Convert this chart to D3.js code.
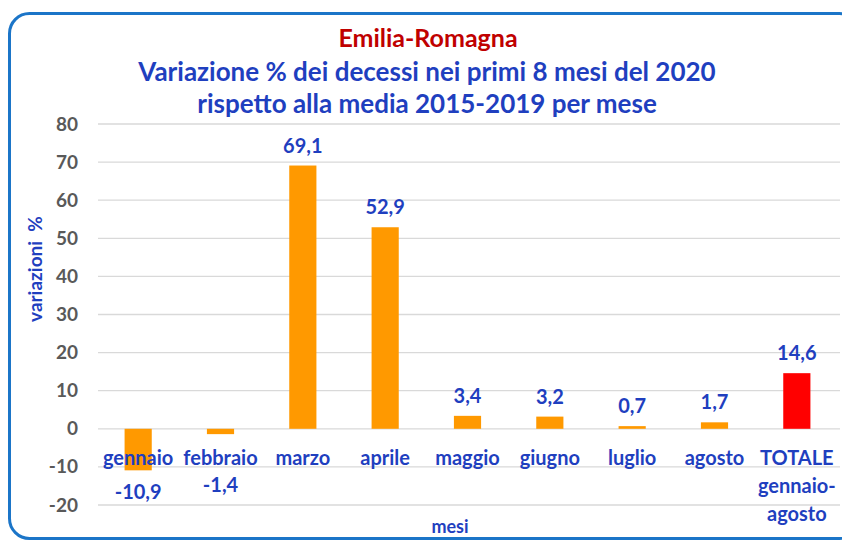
<!DOCTYPE html>
<html>
<head>
<meta charset="utf-8">
<script src="https://cdn.jsdelivr.net/npm/d3@7"></script>
<style>
  body { margin: 0; background: #fff; }
  svg { display: block; font-family: Lato, "Open Sans", sans-serif; font-weight: bold; }
</style>
</head>
<body>
<div id="chart"></div>
<script>
const categories = ['gennaio', 'febbraio', 'marzo', 'aprile', 'maggio', 'giugno', 'luglio', 'agosto', 'TOTALE'];
const categoryLines = [['gennaio'], ['febbraio'], ['marzo'], ['aprile'], ['maggio'], ['giugno'], ['luglio'], ['agosto'], ['TOTALE', 'gennaio-', 'agosto']];
const values = [-10.9, -1.4, 69.1, 52.9, 3.4, 3.2, 0.7, 1.7, 14.6];
const yTicks = [-20, -10, 0, 10, 20, 30, 40, 50, 60, 70, 80];
const titleLines = ['Variazione % dei decessi nei primi 8 mesi del 2020', 'rispetto alla media 2015-2019 per mese'];

const width = 842, height = 544;
const blue = '#1f3fbf';

const svg = d3.select('#chart').append('svg')
    .attr('width', width)
    .attr('height', height);

// rounded frame
svg.append('rect')
    .attr('x', 9.5).attr('y', 13.5)
    .attr('width', 850).attr('height', 525)
    .attr('rx', 20)
    .attr('fill', '#fff')
    .attr('stroke', '#1b75c8')
    .attr('stroke-width', 3);

const x = d3.scaleBand()
    .domain(categories)
    .range([97, 838])
    .paddingInner(0.67)
    .paddingOuter(0.335);

const y = d3.scaleLinear()
    .domain([-20, 80])
    .range([505, 124]);

// gridlines
svg.append('g')
    .selectAll('line')
    .data(yTicks)
    .enter().append('line')
    .attr('x1', 98).attr('x2', 840)
    .attr('y1', d => y(d)).attr('y2', d => y(d))
    .attr('stroke', '#d9d9d9')
    .attr('stroke-width', 1.3);

// y axis labels
const yAxis = svg.append('g')
    .attr('transform', 'translate(84,0)')
    .call(d3.axisLeft(y).tickValues(yTicks).tickFormat(d => String(d)).tickSize(0).tickPadding(6));
yAxis.select('.domain').remove();
yAxis.selectAll('text')
    .attr('fill', '#595959')
    .style('font-family', 'Lato, sans-serif')
    .style('font-weight', 'bold')
    .style('font-size', '19px');

// bars
svg.append('g')
    .selectAll('rect')
    .data(values)
    .enter().append('rect')
    .attr('x', (d, i) => x(categories[i]))
    .attr('width', x.bandwidth())
    .attr('y', d => y(Math.max(0, d)))
    .attr('height', d => Math.abs(y(d) - y(0)))
    .attr('fill', (d, i) => categories[i] === 'TOTALE' ? '#ff0000' : '#ff9900');

// value labels
svg.append('g')
    .selectAll('text')
    .data(values)
    .enter().append('text')
    .attr('x', (d, i) => x(categories[i]) + x.bandwidth() / 2)
    .attr('y', d => d >= 0 ? y(d) - 13 : Math.max(y(d) + 29, y(0) + 63))
    .attr('text-anchor', 'middle')
    .attr('fill', blue)
    .style('font-size', '20px')
    .text(d => d.toFixed(1).replace('.', ','));

// category labels
const cat = svg.append('g')
    .selectAll('text')
    .data(categoryLines)
    .enter().append('text')
    .attr('x', (d, i) => x(categories[i]) + x.bandwidth() / 2)
    .attr('y', 465)
    .attr('text-anchor', 'middle')
    .attr('fill', blue)
    .style('font-size', '20px');
cat.selectAll('tspan')
    .data(d => d)
    .enter().append('tspan')
    .attr('x', function () { return this.parentNode.getAttribute('x'); })
    .attr('dy', (d, i) => i === 0 ? 0 : 28)
    .text(d => d);

// axis titles
svg.append('text')
    .attr('x', 450).attr('y', 533)
    .attr('text-anchor', 'middle')
    .attr('fill', blue)
    .style('font-size', '18px')
    .text('mesi');

svg.append('text')
    .attr('transform', 'translate(42,269) rotate(-90)')
    .attr('text-anchor', 'middle')
    .attr('fill', blue)
    .style('font-size', '19px')
    .text('variazioni\u00A0 %');

// titles
svg.append('text')
    .attr('x', 428).attr('y', 47)
    .attr('text-anchor', 'middle')
    .attr('fill', '#c00000')
    .style('font-size', '25px')
    .text('Emilia-Romagna');

svg.append('g')
    .selectAll('text')
    .data(titleLines)
    .enter().append('text')
    .attr('x', 427)
    .attr('y', (d, i) => 81 + i * 32)
    .attr('text-anchor', 'middle')
    .attr('fill', blue)
    .style('font-size', '26px')
    .text(d => d);
</script>
</body>
</html>
